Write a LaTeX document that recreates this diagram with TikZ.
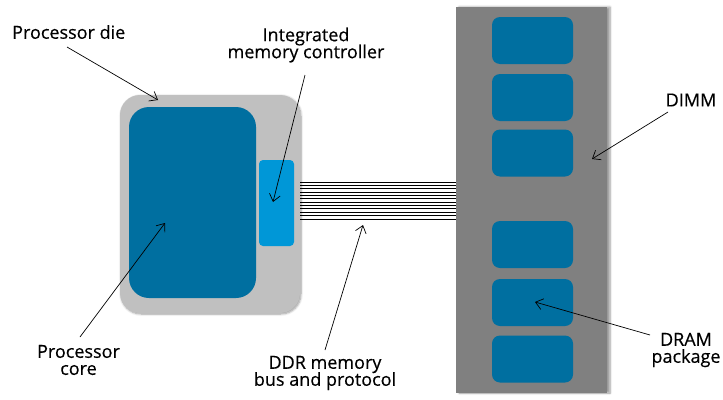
\documentclass[tikz,border=0pt]{standalone}
\usepackage{fontspec}
\setmainfont[FakeBold=0.4]{Open Sans}
\usetikzlibrary{arrows.meta, shadows.blur}

\definecolor{diegray}{HTML}{C0C0C0}
\definecolor{dimmgray}{HTML}{808080}
\definecolor{coreblue}{HTML}{006FA0}
\definecolor{imcblue}{HTML}{0097D7}

\begin{document}
\begin{tikzpicture}[x=1pt, y=-1pt]

\tikzset{die/.style = {fill=diegray, rounded corners=20pt, minimum width=180pt, minimum height=218pt,
  blur shadow={shadow xshift=1pt, shadow yshift=-1pt, shadow blur steps=6, shadow opacity=40}}}
\tikzset{core/.style = {fill=coreblue, rounded corners=20pt, minimum width=127pt, minimum height=191pt}}
\tikzset{imc/.style = {fill=imcblue, rounded corners=4pt, minimum width=35pt, minimum height=86pt}}
\tikzset{dimm/.style = {fill=dimmgray, minimum width=151pt, minimum height=386pt,
  blur shadow={shadow xshift=3pt, shadow yshift=0pt, shadow blur steps=6, shadow opacity=40}}}
\tikzset{chip/.style = {fill=coreblue, rounded corners=8pt, minimum width=81pt, minimum height=47pt}}
\tikzset{lbl/.style = {font=\fontsize{18}{20}\selectfont, align=center, inner sep=0pt}}
\tikzset{pointer/.style = {-{Straight Barb[length=7pt, width=11pt]}, line width=0.7pt}}

\useasboundingbox (0,0) rectangle (723,399);

% processor
\node[die] (die) at (210,204) {};
\node[core] (core) at (192.5,202.5) {};
\node[imc] (imc) at (276.5,203) {};

% memory module
\node[dimm] (dimm) at (531.5,200) {};
\foreach \y [count=\i] in {40.5, 97.5, 153, 244.5, 302.5, 359}
  \node[chip] (chip\i) at (532.5,\y) {};

% bus
\foreach \y in {0,...,11}
  \draw[line width=0.8pt] (die.east |- 0,182+3.36*\y) -- (dimm.west |- 0,182+3.36*\y);

% labels
\node[lbl, anchor=west] (dielbl) at (12,32) {Processor die};
\node[lbl] (imclbl) at (306,45) {Integrated\\[-3pt]memory controller};
\node[lbl] (corelbl) at (78.5,360) {Processor\\[-3pt]core};
\node[lbl] (buslbl) at (325,373) {DDR memory\\[-3pt]bus and protocol};
\node[lbl] (dimmlbl) at (691,100) {DIMM};
\node[lbl] (dramlbl) at (686,350) {DRAM\\[-3pt]package};

% pointers
\coordinate (dietail) at (67,47);   \coordinate (dietip) at (158,100);
\coordinate (imctail) at (305,75);  \coordinate (imctip) at (273,202);
\coordinate (coretail) at (80,337); \coordinate (coretip) at (165,223);
\coordinate (bustail) at (325,350); \coordinate (bustip) at (363,225);
\coordinate (dimmtail) at (668,112); \coordinate (dimmtip) at (592,159);
\coordinate (dramtail) at (650,335); \coordinate (dramtip) at (535,302);
\draw[pointer] (dietail) -- (dietip);
\draw[pointer] (imctail) -- (imctip);
\draw[pointer] (coretail) -- (coretip);
\draw[pointer] (bustail) -- (bustip);
\draw[pointer] (dimmtail) -- (dimmtip);
\draw[pointer] (dramtail) -- (dramtip);

\end{tikzpicture}
\end{document}
